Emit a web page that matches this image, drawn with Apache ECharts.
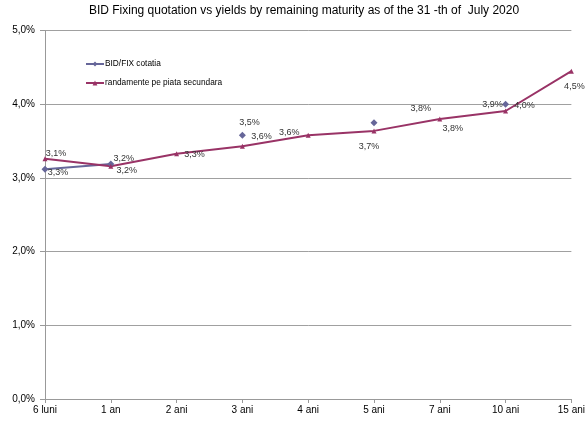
<!DOCTYPE html>
<html>
<head>
<meta charset="utf-8">
<script src="https://cdn.jsdelivr.net/npm/echarts@6/dist/echarts.min.js"></script>
<style>html,body{margin:0;padding:0;background:#fff}#c{width:588px;height:423px}</style>
</head>
<body>
<div id="c"></div>
<script>
// ---- data ----
var categories = ['6 luni', '1 an', '2 ani', '3 ani', '4 ani', '5 ani', '7 ani', '10 ani', '15 ani'];
var bidFix = [3.12, 3.19, null, 3.58, null, 3.75, null, 4.00, null];
var randamente = [3.26, 3.16, 3.33, 3.43, 3.58, 3.64, 3.80, 3.91, 4.45];
var bidFixLabels = ['3,3%', '3,2%', null, '3,5%', null, null, null, '4,0%', null];
var randLabels = ['3,1%', '3,2%', '3,3%', '3,6%', '3,6%', '3,7%', '3,8%', '3,9%', '4,5%'];
var extraLabelValues = [null, null, null, null, null, null, 3.80, null, null];
var extraLabels = [null, null, null, null, null, null, '3,8%', null, null];
var yTicks = [0, 1, 2, 3, 4, 5];
var titleText = 'BID Fixing quotation vs yields by remaining maturity as of the 31 -th of  July 2020';
var seriesNames = ['BID/FIX cotatia', 'randamente pe piata secundara'];

// ---- layout (label offsets, px) ----
var bidOffsets = [[13, 3], [13, -6], null, [7, -13], null, null, null, [19, 1], null];
var randOffsets = [[11, -5], [16, 4], [18, 1], [19, -10], [-19, -3], [-5, 16], [13, 9], [-13, -6], [3, 15]];
var extraOffsets = [null, null, null, null, null, null, [-19, -11], null, null];

var FONT = 'Liberation Sans, Arial, sans-serif';
var labelBase = { show: true, position: 'inside', fontSize: 9, color: '#333', fontFamily: FONT };

function mkData(vals, labels, offs) {
  return vals.map(function (v, i) {
    if (v == null) return null;
    var d = { value: v };
    if (labels[i]) {
      d.label = Object.assign({}, labelBase, { formatter: labels[i], offset: offs[i] });
    } else {
      d.label = { show: false };
    }
    return d;
  });
}

var chart = echarts.init(document.getElementById('c'));
chart.setOption({
  animation: false,
  backgroundColor: '#fff',
  title: {
    text: titleText, left: 299, top: 0, textAlign: 'center',
    textStyle: { fontSize: 12, fontWeight: 'normal', color: '#000', fontFamily: FONT }
  },
  legend: {
    data: seriesNames, orient: 'vertical', left: 80, top: 55,
    itemWidth: 18, itemHeight: 6, itemGap: 11,
    textStyle: { fontSize: 8.3, color: '#000', fontFamily: FONT, padding: [0, 0, 0, -4] }
  },
  grid: { left: 45, right: 16, top: 30.7, bottom: 24, containLabel: false },
  xAxis: {
    type: 'category', data: categories, boundaryGap: false,
    axisLine: { lineStyle: { color: '#999' } },
    axisTick: { show: true, length: 4, lineStyle: { color: '#999' } },
    axisLabel: { fontSize: 10, color: '#000', fontFamily: FONT, margin: 6 },
    splitLine: { show: false }
  },
  yAxis: {
    type: 'value', min: yTicks[0], max: yTicks[yTicks.length - 1], interval: 1,
    axisLine: { show: true, lineStyle: { color: '#999' } },
    axisTick: { show: true, length: 5, lineStyle: { color: '#999' } },
    axisLabel: {
      fontSize: 10, color: '#000', fontFamily: FONT, margin: 10,
      formatter: function (v) { return v.toFixed(1).replace('.', ',') + '%'; }
    },
    splitLine: { show: true, lineStyle: { color: '#a0a0a0', width: 1 } }
  },
  series: [
    {
      name: seriesNames[0], type: 'line', data: mkData(bidFix, bidFixLabels, bidOffsets),
      connectNulls: false, symbol: 'diamond', symbolSize: 7, showAllSymbol: true,
      itemStyle: { color: '#666699' }, lineStyle: { color: '#666699', width: 2 }
    },
    {
      name: seriesNames[1], type: 'line', data: mkData(randamente, randLabels, randOffsets),
      symbol: 'triangle', symbolSize: 5, showAllSymbol: true,
      itemStyle: { color: '#993366' }, lineStyle: { color: '#993366', width: 2 }
    },
    {
      name: 'extra', type: 'line', silent: true, symbol: 'circle', symbolSize: 0,
      showAllSymbol: true, lineStyle: { width: 0 }, itemStyle: { color: 'transparent' },
      data: mkData(extraLabelValues, extraLabels, extraOffsets)
    }
  ]
});
</script>
</body>
</html>
